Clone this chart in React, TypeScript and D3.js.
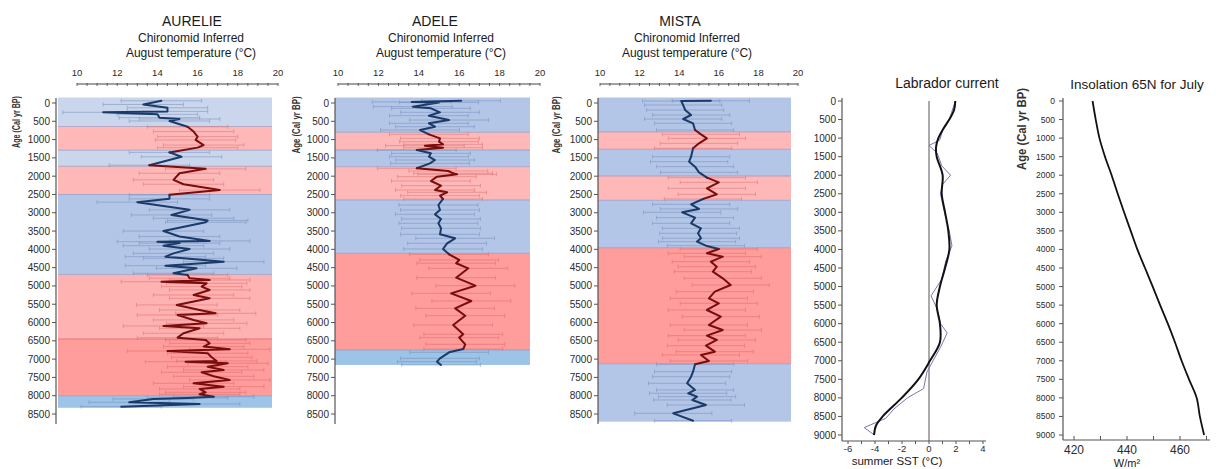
import React from 'react';
import * as d3 from 'd3';

// ---------- data ----------
const coreAgeTicks = [0, 500, 1000, 1500, 2000, 2500, 3000, 3500, 4000, 4500, 5000, 5500, 6000, 6500, 7000, 7500, 8000, 8500];
const longAgeTicks = [0, 500, 1000, 1500, 2000, 2500, 3000, 3500, 4000, 4500, 5000, 5500, 6000, 6500, 7000, 7500, 8000, 8500, 9000];
const tempTicks = [10, 12, 14, 16, 18, 20];
const sstTicks = [-6, -4, -2, 0, 2, 4];
const insolTicks = [420, 440, 460];

// [age, temperature]
const aurelie: [number, number][] = [
  [-60, 14.2], [40, 13.3], [130, 14.5], [230, 14.5], [255, 11.3], [310, 14.0], [400, 14.1], [437, 15.1], [492, 14.6],
  [650, 15.5], [780, 15.8], [920, 16.0], [1010, 15.9], [1150, 16.3], [1220, 16.0], [1350, 14.6], [1470, 15.2],
  [1700, 13.6], [1800, 16.4], [1920, 15.1], [2100, 14.8], [2220, 15.3], [2380, 17.1], [2510, 14.6], [2620, 14.6],
  [2710, 13.0], [2920, 15.6], [3060, 14.7], [3150, 15.8], [3210, 16.5], [3260, 16.4], [3500, 14.3], [3650, 15.1],
  [3770, 16.6], [3790, 14.0], [3830, 15.1], [3900, 14.3], [3990, 15.6], [4110, 14.8], [4200, 14.4], [4245, 15.3],
  [4336, 17.3], [4446, 14.4], [4518, 15.95], [4654, 14.8], [4700, 15.5], [4790, 15.6], [4837, 16.6], [4883, 14.2],
  [4928, 16.45], [5020, 16.2], [5110, 16.6], [5247, 15.8], [5338, 16.6], [5520, 14.96], [5657, 16.1], [5748, 16.9],
  [5794, 15.0], [5930, 15.8], [6021, 16.45], [6094, 14.3], [6158, 16.1], [6294, 15.3], [6414, 15.0], [6477, 16.4],
  [6568, 16.6], [6658, 16.3], [6732, 17.6], [6778, 14.5], [6840, 16.5], [6950, 16.7], [7051, 16.95], [7070, 15.4],
  [7114, 17.5], [7206, 16.5], [7297, 17.3], [7360, 16.2], [7470, 16.8], [7570, 17.6], [7661, 15.8], [7752, 17.3],
  [7816, 16.1], [7907, 16.4], [7962, 16.1], [8026, 16.8], [8060, 15.5], [8090, 13.8], [8180, 12.6], [8226, 16.1],
  [8300, 12.2],
];

const adele: [number, number][] = [
  [-60, 16.1], [-30, 13.65], [-15, 15.0], [100, 13.7], [146, 14.6], [255, 15.05], [346, 14.5], [465, 15.5], [556, 14.5],
  [647, 14.8], [738, 14.06], [856, 14.5], [966, 15.05], [1057, 15.0], [1130, 15.2], [1166, 14.3], [1221, 15.2],
  [1285, 13.9], [1376, 14.6], [1467, 14.5], [1558, 14.8], [1649, 14.55], [1785, 13.9], [1858, 15.46], [1922, 15.7],
  [1950, 15.9], [2013, 14.9], [2131, 14.6], [2259, 15.1], [2378, 14.8], [2441, 15.4], [2532, 15.05], [2623, 15.2],
  [2788, 14.97], [2924, 15.05], [3043, 14.8], [3170, 15.1], [3288, 14.97], [3425, 15.1], [3589, 15.05], [3698, 15.8],
  [3835, 15.4], [3990, 15.2], [4135, 15.5], [4290, 16.0], [4380, 15.85], [4518, 16.45], [4774, 15.85], [4993, 16.8],
  [5202, 15.6], [5411, 16.6], [5612, 15.8], [5813, 16.3], [6067, 15.7], [6322, 16.2], [6413, 16.0], [6595, 16.3],
  [6723, 16.2], [6814, 15.5], [6978, 15.05], [7070, 14.9], [7160, 15.1],
];

const mista: [number, number][] = [
  [-60, 15.6], [-55, 14.1], [55, 14.2], [191, 14.3], [328, 14.6], [437, 14.2], [556, 14.7], [738, 14.8], [856, 15.1],
  [966, 15.4], [1102, 15.0], [1239, 14.7], [1467, 14.6], [1603, 14.5], [1740, 14.8], [1895, 15.0], [2040, 15.4],
  [2168, 16.0], [2332, 15.4], [2496, 15.9], [2623, 15.2], [2769, 14.6], [2896, 15.0], [2988, 14.15], [3134, 14.8],
  [3288, 14.6], [3425, 15.1], [3562, 14.95], [3698, 15.1], [3789, 14.9], [3899, 15.35], [3990, 16.0], [4108, 15.4],
  [4200, 16.2], [4336, 15.6], [4473, 15.9], [4610, 15.7], [4791, 16.2], [4974, 16.6], [5157, 15.8], [5338, 15.5],
  [5475, 16.0], [5657, 15.4], [5840, 16.1], [6067, 15.5], [6204, 16.2], [6359, 15.4], [6477, 15.9], [6632, 15.35],
  [6796, 15.8], [6887, 15.1], [7051, 15.5], [7142, 14.8], [7343, 14.7], [7480, 14.6], [7661, 14.4], [7843, 14.8],
  [7934, 14.45], [8026, 14.9], [8117, 14.66], [8254, 15.35], [8482, 13.7], [8683, 14.7],
];

// error half-width (°C) per core
const aurelieErr = 2.0;
const adeleErr = 1.95;
const mistaErr = 1.95;

// climate bands [startAge, endAge, kind]
type Band = [number, number, string];
const aurelieBands: Band[] = [
  [-150, 640, 'lb'], [640, 1290, 'p'], [1290, 1730, 'lb'], [1730, 2500, 'p'],
  [2500, 4690, 'b'], [4690, 6450, 'p2'], [6450, 8000, 'r'], [8000, 8330, 'c'],
];
const adeleBands: Band[] = [
  [-150, 800, 'b'], [800, 1285, 'p'], [1285, 1740, 'b'], [1740, 2650, 'p'],
  [2650, 4108, 'b'], [4108, 6750, 'r'], [6750, 7160, 'c'],
];
const mistaBands: Band[] = [
  [-150, 790, 'b'], [790, 1265, 'p'], [1265, 1995, 'b'], [1995, 2660, 'p'],
  [2660, 3955, 'b'], [3955, 7125, 'r'], [7125, 8710, 'b'],
];

// Labrador current summer SST [age, °C]
const labradorSmooth: [number, number][] = [
  [0, 1.95], [250, 1.85], [500, 1.5], [750, 1.06], [1000, 0.69], [1250, 0.52], [1500, 0.57], [2000, 1.01],
  [2500, 0.94], [3000, 1.19], [3500, 1.43], [4000, 1.51], [4500, 1.19], [5000, 0.81], [5500, 0.57], [6000, 0.81],
  [6500, 0.81], [7000, 0.07], [7500, -0.79], [8000, -2.02], [8500, -3.43], [8750, -3.93], [9000, -4.07],
];
const labradorRaw: [number, number][] = [
  [0, 1.95], [500, 1.5], [800, 1.0], [1050, 0.8], [1200, 0.0], [1400, 0.6], [1750, 0.95], [2000, 1.6], [2250, 1.0],
  [2500, 0.85], [3000, 1.15], [3500, 1.5], [3900, 1.7], [4300, 1.25], [4800, 0.95], [5250, 0.15], [5600, 0.6],
  [6000, 0.85], [6250, 1.35], [6600, 0.9], [7000, 0.3], [7300, -0.15], [7750, -0.4], [8000, -1.6], [8300, -2.6],
  [8550, -3.2], [8800, -4.8], [9000, -4.05],
];

// Insolation 65N July [age, W/m2]
const insolation: [number, number][] = [
  [0, 427.0], [500, 428.2], [1000, 429.6], [1500, 431.7], [2000, 434.2], [2500, 436.5], [3000, 438.9], [3500, 441.4],
  [4000, 443.9], [4500, 446.8], [5000, 449.7], [5500, 452.5], [6000, 455.4], [6500, 458.1], [7000, 460.6],
  [7500, 463.4], [8000, 466.3], [8500, 467.5], [9000, 469.1],
];

// ---------- styles ----------
const FONT = 'Liberation Sans, Arial, Helvetica, sans-serif';
const bandFill: Record<string, string> = {
  lb: '#c9d6ec', b: '#b3c6e7', p: '#ffb8b8', p2: '#ffb2b2', r: '#ff9c9c', c: '#9dc3e6',
};
const isWarm = (k: string) => k === 'p' || k === 'p2' || k === 'r';
const lineColor = (k: string) => (isWarm(k) ? '#7a0c0c' : '#1b3a68');
const errColor = (k: string) => (isWarm(k) ? '#dd6666' : '#6f88b6');
const tickColor = '#2a2a2a';

const yCore = d3.scaleLinear().domain([0, 8500]).range([103, 414]);
const yLong = d3.scaleLinear().domain([0, 9000]).range([101, 435]);

function bandKind(bands: Band[], age: number) {
  for (const b of bands) if (age >= b[0] && age < b[1]) return b[2];
  return bands[bands.length - 1][2];
}

type CoreProps = {
  title: string;
  data: [number, number][];
  bands: Band[];
  err: number;
  xr: [number, number];
  bandX: [number, number];
  axisX: number;
  titleX: number;
  subX: number;
  ylab: [number, number, number];
};

function CorePanel(p: CoreProps) {
  const x = d3.scaleLinear().domain([10, 20]).range(p.xr);
  const line = d3.line<[number, number]>().x((d) => x(d[1])).y((d) => yCore(d[0]));
  const runs: { kind: string; pts: [number, number][] }[] = [];
  for (let i = 0; i < p.data.length - 1; i++) {
    const a = p.data[i], b = p.data[i + 1];
    const k = bandKind(p.bands, (a[0] + b[0]) / 2);
    const last = runs[runs.length - 1];
    if (last && last.kind === k) last.pts.push(b);
    else runs.push({ kind: k, pts: [a, b] });
  }
  const minor = d3.range(10, 20.01, 0.5);
  return (
    <g>
      <text x={p.titleX} y={26} textAnchor="middle" fontSize={14} fill="#1a1a1a">{p.title}</text>
      <text x={p.subX} y={42} textAnchor="middle" fontSize={12} fill="#1a1a1a">Chironomid Inferred</text>
      <text x={p.subX} y={57} textAnchor="middle" fontSize={12} fill="#1a1a1a">August temperature (°C)</text>
      <line x1={x(10)} x2={x(20)} y1={84} y2={84} stroke="#444" strokeWidth={1} />
      {minor.map((t) => (
        <line key={t} x1={x(t)} x2={x(t)} y1={83} y2={86} stroke="#444" strokeWidth={0.8} />
      ))}
      {tempTicks.map((t) => (
        <text key={t} x={x(t)} y={76} textAnchor="middle" fontSize={9.5} fill={tickColor}>{t}</text>
      ))}
      {p.bands.map((b, i) => (
        <rect key={i} x={p.bandX[0]} width={p.bandX[1] - p.bandX[0]} y={yCore(b[0])}
          height={yCore(b[1]) - yCore(b[0])} fill={bandFill[b[2]]} />
      ))}
      {p.bands.slice(1).map((b, i) => (
        <line key={i} x1={p.bandX[0]} x2={p.bandX[1]} y1={yCore(b[0])} y2={yCore(b[0])}
          stroke={b[2] === 'r' && p.bands[i][2] === 'p2' ? '#e05a5a' : '#8f8fbf'} strokeWidth={0.8} opacity={0.8} />
      ))}
      {p.data.map((d, i) => {
        const k = bandKind(p.bands, d[0]);
        const yy = yCore(d[0]);
        const c = errColor(k);
        return (
          <g key={i} stroke={c} strokeWidth={0.8} opacity={0.6}>
            <line x1={x(d[1] - p.err)} x2={x(d[1] + p.err)} y1={yy} y2={yy} />
            <line x1={x(d[1] - p.err)} x2={x(d[1] - p.err)} y1={yy - 2} y2={yy + 2} />
            <line x1={x(d[1] + p.err)} x2={x(d[1] + p.err)} y1={yy - 2} y2={yy + 2} />
          </g>
        );
      })}
      {runs.map((r, i) => (
        <path key={i} d={line(r.pts) || ''} fill="none" stroke={lineColor(r.kind)} strokeWidth={2}
          strokeLinejoin="round" strokeLinecap="round" />
      ))}
      <line x1={p.axisX} x2={p.axisX} y1={98} y2={424} stroke="#555" strokeWidth={1.2} />
      {coreAgeTicks.map((t) => (
        <g key={t}>
          <line x1={p.axisX - 4} x2={p.axisX} y1={yCore(t)} y2={yCore(t)} stroke="#555" />
          <text x={p.axisX - 6} y={yCore(t) + 3.5} textAnchor="end" fontSize={10} fill={tickColor}>{t}</text>
        </g>
      ))}
      <text transform={`translate(${p.ylab[0]},${p.ylab[1]}) rotate(-90)`} textAnchor="middle" fontSize={11}
        fontWeight="bold" fill="#333" textLength={p.ylab[2]} lengthAdjust="spacingAndGlyphs">Age (Cal yr BP)</text>
    </g>
  );
}

function Labrador() {
  const x = d3.scaleLinear().domain([-6, 4]).range([848, 983]);
  const line = d3.line<[number, number]>().x((d) => x(d[1])).y((d) => yLong(d[0]));
  const smooth = d3.line<[number, number]>().x((d) => x(d[1])).y((d) => yLong(d[0])).curve(d3.curveCatmullRom);
  const minor = d3.range(-6, 4.01, 1);
  return (
    <g>
      <text x={947} y={88} textAnchor="middle" fontSize={14} fill="#1a1a1a">Labrador current</text>
      <line x1={x(0)} x2={x(0)} y1={101} y2={441} stroke="#555" strokeWidth={1} />
      <path d={line(labradorRaw) || ''} fill="none" stroke="#7676b4" strokeWidth={1} />
      <path d={smooth(labradorSmooth) || ''} fill="none" stroke="#111" strokeWidth={2} />
      <line x1={842} x2={842} y1={98} y2={441} stroke="#555" strokeWidth={1.2} />
      {longAgeTicks.map((t) => (
        <g key={t}>
          <line x1={838} x2={842} y1={yLong(t)} y2={yLong(t)} stroke="#555" />
          <text x={836} y={yLong(t) + 3.5} textAnchor="end" fontSize={10} fill={tickColor}>{t}</text>
        </g>
      ))}
      <line x1={842} x2={986} y1={441} y2={441} stroke="#555" strokeWidth={1.2} />
      {minor.map((t) => (
        <line key={t} x1={x(t)} x2={x(t)} y1={441} y2={444} stroke="#555" />
      ))}
      {sstTicks.map((t) => (
        <text key={t} x={x(t)} y={452} textAnchor="middle" fontSize={9.5} fill={tickColor}>{t}</text>
      ))}
      <text x={897} y={465} textAnchor="middle" fontSize={11.5} fill="#1a1a1a">summer SST (°C)</text>
    </g>
  );
}

function Insolation() {
  const x = d3.scaleLinear().domain([420, 460]).range([1074, 1180]);
  const line = d3.line<[number, number]>().x((d) => x(d[1])).y((d) => yLong(d[0])).curve(d3.curveCatmullRom);
  const minor = d3.range(420, 470.1, 10);
  return (
    <g>
      <text x={1137} y={89} textAnchor="middle" fontSize={13.5} fill="#1a1a1a">Insolation 65N for July</text>
      <path d={line(insolation) || ''} fill="none" stroke="#111" strokeWidth={1.8} />
      <line x1={1063} x2={1063} y1={98} y2={440} stroke="#555" strokeWidth={1.2} />
      {longAgeTicks.map((t) => (
        <g key={t}>
          <line x1={1059} x2={1063} y1={yLong(t)} y2={yLong(t)} stroke="#555" />
          <text x={1055} y={yLong(t) + 3} textAnchor="end" fontSize={8.5} fill={tickColor}>{t}</text>
        </g>
      ))}
      <line x1={1063} x2={1210} y1={440} y2={440} stroke="#555" strokeWidth={1.2} />
      {minor.map((t) => (
        <line key={t} x1={x(t)} x2={x(t)} y1={436} y2={440} stroke="#555" />
      ))}
      {insolTicks.map((t) => (
        <text key={t} x={x(t)} y={454} textAnchor="middle" fontSize={12} fill={tickColor}>{t}</text>
      ))}
      <text x={1127} y={467} textAnchor="middle" fontSize={11} fill="#1a1a1a">W/m²</text>
      <text transform="translate(1026,129) rotate(-90)" textAnchor="middle" fontSize={12} fontWeight="bold"
        fill="#333" textLength={82} lengthAdjust="spacingAndGlyphs">Age (Cal yr BP)</text>
    </g>
  );
}

export default function App() {
  return (
    <svg width={1216} height={469} style={{ position: 'absolute', left: 0, top: 0, background: '#fff' }}
      fontFamily={FONT}>
      <rect width={1216} height={469} fill="#fff" />
      <CorePanel title="AURELIE" data={aurelie} bands={aurelieBands} err={aurelieErr} xr={[77, 278]}
        bandX={[58, 272]} axisX={56} titleX={192} subX={191} ylab={[20, 122, 52]} />
      <CorePanel title="ADELE" data={adele} bands={adeleBands} err={adeleErr} xr={[338, 540]}
        bandX={[335, 530]} axisX={335} titleX={435} subX={441} ylab={[300, 125, 57]} />
      <CorePanel title="MISTA" data={mista} bands={mistaBands} err={mistaErr} xr={[600, 798]}
        bandX={[598, 791]} axisX={598} titleX={680} subX={687} ylab={[560, 125, 57]} />
      <Labrador />
      <Insolation />
    </svg>
  );
}
